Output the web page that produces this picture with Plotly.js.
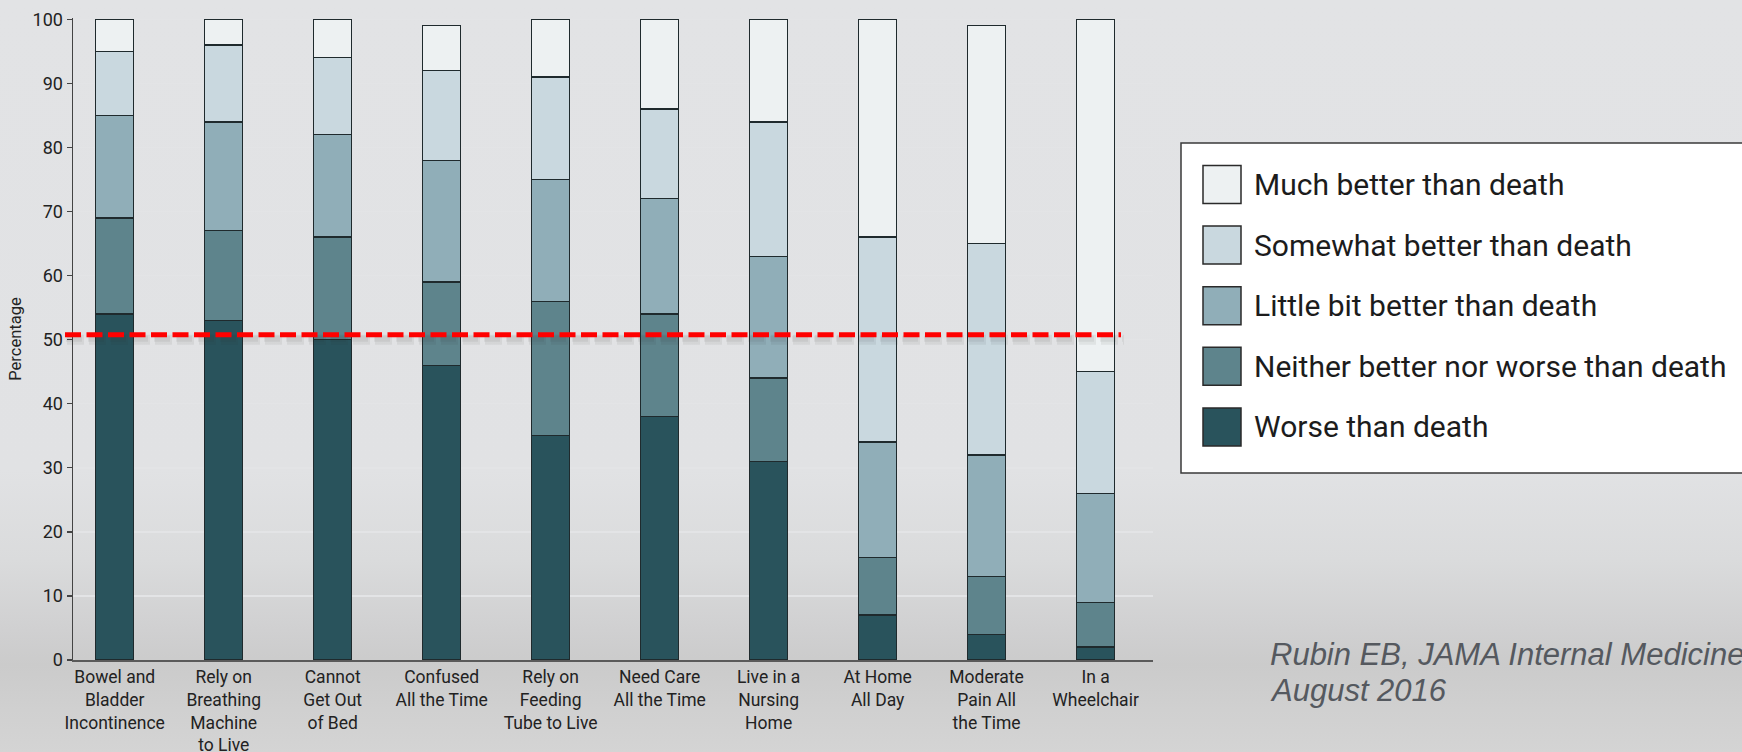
<!DOCTYPE html>
<html>
<head>
<meta charset="utf-8">
<script src="https://cdn.plot.ly/plotly-3.0.1.min.js"></script>
<style>
  html, body { margin: 0; padding: 0; }
  body {
    width: 1742px; height: 752px; overflow: hidden;
    background: linear-gradient(to bottom, #e2e3e5 0px, #e1e2e4 470px, #dadbdc 560px, #d0d0d1 630px, #cbcbcb 665px, #d0d0d0 710px, #d4d4d4 752px);
  }
  #chart { width: 1742px; height: 752px; }
</style>
</head>
<body>
<div id="chart"></div>
<script>
// ---------- data ----------
const categories = [
  "Bowel and<br>Bladder<br>Incontinence",
  "Rely on<br>Breathing<br>Machine<br>to Live",
  "Cannot<br>Get Out<br>of Bed",
  "Confused<br>All the Time",
  "Rely on<br>Feeding<br>Tube to Live",
  "Need Care<br>All the Time",
  "Live in a<br>Nursing<br>Home",
  "At Home<br>All Day",
  "Moderate<br>Pain All<br>the Time",
  "In a<br>Wheelchair"
];
const worseThanDeath      = [54, 53, 50, 46, 35, 38, 31,  7,  4,  2];
const neitherBetterWorse  = [15, 14, 16, 13, 21, 16, 13,  9,  9,  7];
const littleBitBetter     = [16, 17, 16, 19, 19, 18, 19, 18, 19, 17];
const somewhatBetter      = [10, 12, 12, 14, 16, 14, 21, 32, 33, 19];
const muchBetter          = [ 5,  4,  6,  7,  9, 14, 16, 34, 34, 55];
const seriesNames = [
  "Worse than death",
  "Neither better nor worse than death",
  "Little bit better than death",
  "Somewhat better than death",
  "Much better than death"
];
const seriesValues = [worseThanDeath, neitherBetterWorse, littleBitBetter, somewhatBetter, muchBetter];
const seriesColors = ["#29535c", "#5e848c", "#90aeb8", "#c9d8df", "#edf1f2"];
const yTickVals = [0, 10, 20, 30, 40, 50, 60, 70, 80, 90, 100];
const thresholdLine = 50.75;
const citationLines = ["Rubin EB, JAMA Internal Medicine", "August 2016"];

// ---------- layout geometry ----------
const W = 1742, H = 752;
const M = { l: 73, r: 589, t: 18, b: 92 };
const plotW = W - M.l - M.r, plotH = H - M.t - M.b;
const X = px => (px - M.l) / plotW;          // pixel -> paper x
const Y = py => (H - M.b - py) / plotH;      // pixel -> paper y
const FONT = "Roboto, 'Liberation Sans', sans-serif";

const traces = seriesValues.map((vals, i) => ({
  type: "bar",
  x: categories,
  y: vals,
  name: seriesNames[i],
  width: 0.349,
  marker: { color: seriesColors[i], line: { color: "#1f2a2d", width: 1.4 } },
  hoverinfo: "name+y",
  showlegend: false
}));

const shapes = [];
// threshold line soft shadow + line
shapes.push({ type: "line", xref: "paper", yref: "y", x0: X(67), x1: X(1124), y0: thresholdLine - 0.75, y1: thresholdLine - 0.75,
  line: { color: "rgba(40,40,40,0.07)", width: 10, dash: "17px,5px" }, layer: "above" });
shapes.push({ type: "line", xref: "paper", yref: "y", x0: X(66), x1: X(1123), y0: thresholdLine - 0.6, y1: thresholdLine - 0.6,
  line: { color: "rgba(40,40,40,0.07)", width: 6, dash: "16px,6px" }, layer: "above" });
shapes.push({ type: "line", xref: "paper", yref: "y", x0: X(65), x1: X(1121), y0: thresholdLine, y1: thresholdLine,
  line: { color: "#ff0000", width: 5, dash: "16px,5.5px" }, layer: "above" });
// legend box
shapes.push({ type: "rect", xref: "paper", yref: "paper", x0: X(1181), x1: X(1800), y0: Y(473), y1: Y(143),
  fillcolor: "#ffffff", line: { color: "#3a3a3a", width: 1.5 }, layer: "below" });

const annotations = [];
const legendOrder = [4, 3, 2, 1, 0];
legendOrder.forEach((si, row) => {
  const cy = 184.5 + row * 60.6;
  shapes.push({ type: "rect", xref: "paper", yref: "paper", x0: X(1203), x1: X(1241), y0: Y(cy + 19), y1: Y(cy - 19),
    fillcolor: seriesColors[si], line: { color: "#2a2a2a", width: 1.5 }, layer: "above" });
  annotations.push({ xref: "paper", yref: "paper", x: X(1252), y: Y(cy), xanchor: "left", yanchor: "middle",
    text: seriesNames[si], showarrow: false, font: { family: FONT, size: 30, color: "#1c1c1c" } });
});
citationLines.forEach((t, i) => {
  annotations.push({ xref: "paper", yref: "paper", x: X(1268), y: Y(654 + i * 36.5), xanchor: "left", yanchor: "middle",
    text: t, showarrow: false, font: { family: "'Liberation Sans', Arial, sans-serif", size: 31, color: "#55595f", style: "italic" } });
});

const layout = {
  width: W, height: H,
  margin: M,
  paper_bgcolor: "rgba(0,0,0,0)",
  plot_bgcolor: "rgba(0,0,0,0)",
  barmode: "stack",
  showlegend: false,
  font: { family: FONT, color: "#222" },
  xaxis: {
    type: "category",
    range: [-0.383, 9.527],
    showline: true, linecolor: "#5a5a5a", linewidth: 2,
    ticks: "", showgrid: false, zeroline: false,
    tickfont: { family: FONT, size: 17.5, color: "#222" },
    automargin: false
  },
  yaxis: {
    range: [0, 100.2],
    tickvals: yTickVals,
    ticktext: yTickVals.map(String),
    showline: true, linecolor: "#444", linewidth: 1.5,
    ticks: "outside", ticklen: 5, tickwidth: 1.3, tickcolor: "#444",
    showgrid: true, gridcolor: "#e3e4e6", gridwidth: 1.5,
    zeroline: false,
    tickfont: { family: FONT, size: 18, color: "#222" },
    title: { text: "Percentage", font: { family: FONT, size: 16.5, color: "#222" }, standoff: 7 },
    automargin: false
  },
  shapes: shapes,
  annotations: annotations
};

Plotly.newPlot("chart", traces, layout, { displayModeBar: false, staticPlot: true });
</script>
</body>
</html>
